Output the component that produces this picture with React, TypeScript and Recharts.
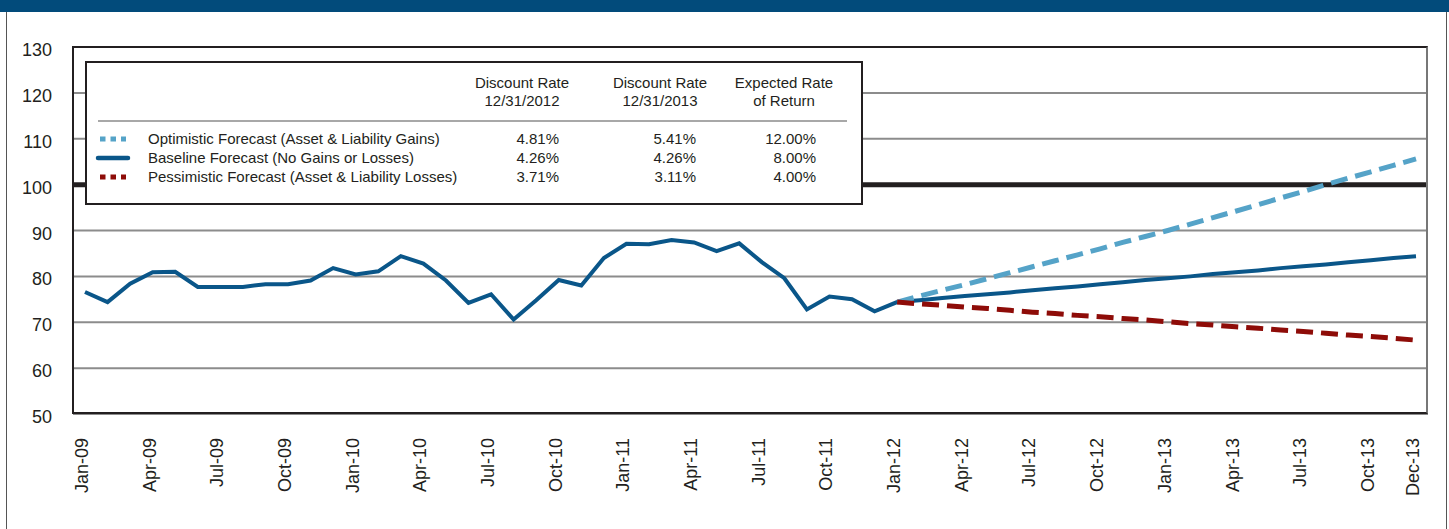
import React from 'react';
import { LineChart, Line, XAxis, YAxis, CartesianGrid, ReferenceLine } from 'recharts';

const months = [
  'Jan-09','Feb-09','Mar-09','Apr-09','May-09','Jun-09','Jul-09','Aug-09','Sep-09','Oct-09','Nov-09','Dec-09',
  'Jan-10','Feb-10','Mar-10','Apr-10','May-10','Jun-10','Jul-10','Aug-10','Sep-10','Oct-10','Nov-10','Dec-10',
  'Jan-11','Feb-11','Mar-11','Apr-11','May-11','Jun-11','Jul-11','Aug-11','Sep-11','Oct-11','Nov-11','Dec-11',
  'Jan-12','Feb-12','Mar-12','Apr-12','May-12','Jun-12','Jul-12','Aug-12','Sep-12','Oct-12','Nov-12','Dec-12',
  'Jan-13','Feb-13','Mar-13','Apr-13','May-13','Jun-13','Jul-13','Aug-13','Sep-13','Oct-13','Nov-13','Dec-13',
];

// Jan-09 .. Dec-11
const baselineActual = [
  76.6, 74.4, 78.4, 80.9, 81.0, 77.7, 77.7, 77.7, 78.3, 78.3, 79.1, 81.8,
  80.4, 81.1, 84.4, 82.8, 79.1, 74.2, 76.1, 70.6, 74.8, 79.2, 78.0, 84.0,
  87.1, 87.0, 87.9, 87.4, 85.5, 87.2, 83.1, 79.6, 72.8, 75.6, 75.0, 72.4,
];

// Jan-12 .. Dec-13
const baselineForecast = [
  74.4, 74.8, 75.3, 75.7, 76.1, 76.5, 77.0, 77.4, 77.8, 78.3, 78.7, 79.2,
  79.6, 80.0, 80.5, 80.9, 81.3, 81.8, 82.2, 82.6, 83.1, 83.5, 84.0, 84.4,
];
const optimisticForecast = [
  74.4, 75.7, 77.0, 78.2, 79.5, 80.8, 82.1, 83.4, 84.7, 86.0, 87.4, 88.7,
  90.0, 91.4, 92.8, 94.2, 95.6, 97.1, 98.5, 100.0, 101.4, 102.8, 104.2, 105.6,
];
const pessimisticForecast = [
  74.4, 74.0, 73.7, 73.3, 73.0, 72.6, 72.2, 71.9, 71.5, 71.2, 70.8, 70.5,
  70.1, 69.7, 69.4, 69.0, 68.7, 68.3, 68.0, 67.6, 67.2, 66.9, 66.5, 66.1,
];

const yTicks = [50, 60, 70, 80, 90, 100, 110, 120, 130];
const xTicks = [
  'Jan-09','Apr-09','Jul-09','Oct-09','Jan-10','Apr-10','Jul-10','Oct-10',
  'Jan-11','Apr-11','Jul-11','Oct-11','Jan-12','Apr-12','Jul-12','Oct-12',
  'Jan-13','Apr-13','Jul-13','Oct-13','Dec-13',
];

const legendHeaders = [
  ['Discount Rate', '12/31/2012'],
  ['Discount Rate', '12/31/2013'],
  ['Expected Rate', 'of Return'],
];
const legendRows = [
  { name: 'Optimistic Forecast (Asset & Liability Gains)', values: ['4.81%', '5.41%', '12.00%'], color: '#55A3C8', dotted: true },
  { name: 'Baseline Forecast (No Gains or Losses)', values: ['4.26%', '4.26%', '8.00%'], color: '#0A5689', dotted: false },
  { name: 'Pessimistic Forecast (Asset & Liability Losses)', values: ['3.71%', '3.11%', '4.00%'], color: '#8E0C08', dotted: true },
];

const FOREST = 36;
const data = months.map((m, i) => ({
  month: m,
  baseline: i < FOREST ? baselineActual[i] : baselineForecast[i - FOREST],
  optimistic: i >= FOREST ? optimisticForecast[i - FOREST] : null,
  pessimistic: i >= FOREST ? pessimisticForecast[i - FOREST] : null,
}));

const FONT = '"Liberation Sans", Arial, Helvetica, sans-serif';
const INK = '#231F20';

const XTick = (props: any) => {
  const { x, y, payload } = props;
  return (
    <text
      x={x}
      y={y}
      dy={-3}
      transform={`rotate(-90, ${x}, ${y})`}
      textAnchor="end"
      fontSize={18}
      fontFamily={FONT}
      fill={INK}
      dominantBaseline="central"
    >
      {payload.value}
    </text>
  );
};

const YTick = (props: any) => {
  const { x, y, payload } = props;
  return (
    <text x={x} y={y + 3} textAnchor="end" dominantBaseline="central" fontSize={18} fontFamily={FONT} fill={INK}>
      {payload.value}
    </text>
  );
};

const colCenters = [522, 660, 784];
const colRights = [559, 696, 816];
const rowYs = [139, 158, 177];

export default function App() {
  return (
    <div style={{ position: 'absolute', left: 0, top: 0, width: 1449, height: 529, background: '#fff', fontFamily: FONT, overflow: 'hidden' }}>
      <div style={{ position: 'absolute', left: 0, top: 0, width: 1449, height: 12, background: '#024B7B' }} />
      <div style={{ position: 'absolute', left: 6, top: 12, width: 1439, height: 530, borderLeft: '1.5px solid #555', borderRight: '1.5px solid #555' }} />
      <div style={{ position: 'absolute', left: 0, top: 0 }}>
        <LineChart width={1449} height={529} data={data} margin={{ top: 47, right: 21, bottom: 0, left: 13 }}>
          <CartesianGrid horizontal vertical={false} stroke="#8C8C8C" strokeWidth={2} />
          <XAxis
            dataKey="month"
            ticks={xTicks}
            interval={0}
            tick={<XTick />}
            tickLine={false}
            axisLine={false}
            tickSize={0}
            tickMargin={24}
            height={115}
            padding={{ left: 12, right: 12 }}
          />
          <YAxis
            domain={[50, 130]}
            ticks={yTicks}
            interval={0}
            tick={<YTick />}
            tickLine={false}
            axisLine={false}
            tickSize={0}
            tickMargin={21}
            width={60}
          />
          <ReferenceLine y={100} stroke={INK} strokeWidth={5} />
          <Line type="linear" dataKey="baseline" stroke="#0A5689" strokeWidth={4} dot={false} isAnimationActive={false} />
          <Line type="linear" dataKey="optimistic" stroke="#55A3C8" strokeWidth={5} strokeDasharray="17 8" dot={false} isAnimationActive={false} connectNulls={false} />
          <Line type="linear" dataKey="pessimistic" stroke="#8E0C08" strokeWidth={5} strokeDasharray="17 8" dot={false} isAnimationActive={false} connectNulls={false} />
        </LineChart>
      </div>
      {/* plot frame */}
      <div style={{ position: 'absolute', left: 72, top: 46, width: 1356, height: 368, boxSizing: 'border-box', border: `2px solid ${INK}`, borderRight: '2px solid #777', pointerEvents: 'none' }} />
      {/* legend table */}
      <div style={{ position: 'absolute', left: 85, top: 61, width: 778, height: 144, boxSizing: 'border-box', border: `2px solid ${INK}`, background: '#fff' }} />
      {legendHeaders.map((h, i) => (
        <React.Fragment key={'h' + i}>
          <div style={{ position: 'absolute', left: colCenters[i] - 70, width: 140, top: 74, textAlign: 'center', fontSize: 15, lineHeight: '18px', color: INK }}>{h[0]}</div>
          <div style={{ position: 'absolute', left: colCenters[i] - 70, width: 140, top: 92, textAlign: 'center', fontSize: 15, lineHeight: '18px', color: INK }}>{h[1]}</div>
        </React.Fragment>
      ))}
      <div style={{ position: 'absolute', left: 98, top: 120, width: 749, height: 2, background: '#A8A8A8' }} />
      <svg style={{ position: 'absolute', left: 0, top: 0 }} width={1449} height={529} pointerEvents="none">
        {legendRows.map((r, i) => (
          <line
            key={i}
            x1={r.dotted ? 100 : 98}
            x2={r.dotted ? 126 : 128}
            y1={rowYs[i]}
            y2={rowYs[i]}
            stroke={r.color}
            strokeWidth={r.dotted ? 5 : 4.5}
            strokeDasharray={r.dotted ? '5.5 5' : undefined}
            strokeLinecap={r.dotted ? 'butt' : 'round'}
          />
        ))}
      </svg>
      {legendRows.map((r, i) => (
        <React.Fragment key={'r' + i}>
          <div style={{ position: 'absolute', left: 148, top: rowYs[i] - 9, fontSize: 15, lineHeight: '18px', color: INK, whiteSpace: 'nowrap' }}>{r.name}</div>
          {r.values.map((v, j) => (
            <div key={j} style={{ position: 'absolute', left: colRights[j] - 100, width: 100, top: rowYs[i] - 9, textAlign: 'right', fontSize: 15, lineHeight: '18px', color: INK }}>{v}</div>
          ))}
        </React.Fragment>
      ))}
    </div>
  );
}
